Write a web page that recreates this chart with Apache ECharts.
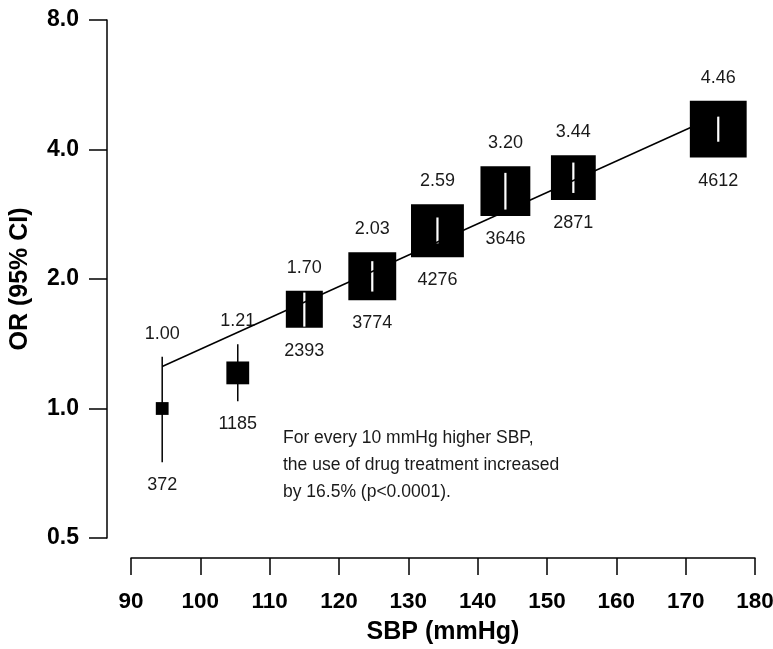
<!DOCTYPE html>
<html>
<head>
<meta charset="utf-8">
<script src="https://cdn.jsdelivr.net/npm/echarts@6/dist/echarts.min.js"></script>
<style>
html,body{margin:0;padding:0;background:#fff;}
#chart{width:773px;height:649px;}
</style>
</head>
<body>
<div id="chart"></div>
<script>
// ---- data ----
var sbpMean   = [94.5, 105.4, 115.0, 124.8, 134.2, 144.0, 153.8, 174.7];
var oddsRatio = [1.00, 1.21, 1.70, 2.03, 2.59, 3.20, 3.44, 4.46];
var ciLow     = [0.75, 1.04, 1.55, 1.87, 2.42, 2.90, 3.17, 4.17];
var ciHigh    = [1.32, 1.41, 1.86, 2.20, 2.78, 3.53, 3.73, 4.77];
var nPatients = [372, 1185, 2393, 3774, 4276, 3646, 2871, 4612];
var weightPct = [1.1, 3.5, 9.2, 15.4, 18.8, 16.7, 13.5, 21.7];
var trendX    = [94.5, 174.7];
var trendY    = [1.252, 4.81];
var xTicks    = [90, 180, 10];
var yTicks    = [0.5, 8.0];
var note = ['For every 10 mmHg higher SBP,', 'the use of drug treatment increased', 'by 16.5% (p<0.0001).'];

var FONT = "'Liberation Sans', Arial, Helvetica, sans-serif";

var pts = sbpMean.map(function (x, i) {
  return [x, oddsRatio[i], ciLow[i], ciHigh[i], nPatients[i], weightPct[i]];
});
var trend = trendX.map(function (x, i) { return [x, trendY[i]]; });

function renderBox(params, api) {
  var c = api.coord([api.value(0), api.value(1)]);
  var lo = api.coord([api.value(0), api.value(2)]);
  var hi = api.coord([api.value(0), api.value(3)]);
  var side = Math.sqrt(api.value(5)) * 12.2;
  var half = side / 2;
  var top = c[1] - half, bot = c[1] + half;
  var children = [];
  children.push({
    type: 'line',
    shape: { x1: c[0], y1: hi[1], x2: c[0], y2: lo[1] },
    style: { stroke: '#000', lineWidth: 1.5 }
  });
  children.push({
    type: 'rect',
    shape: { x: c[0] - half, y: top, width: side, height: side },
    style: { fill: '#000' }
  });
  if (side > 30) {
    children.push({
      type: 'line',
      shape: { x1: c[0], y1: Math.max(hi[1], top), x2: c[0], y2: Math.min(lo[1], bot) },
      style: { stroke: '#fff', lineWidth: 2.2 }
    });
  }
  var upper = Math.min(hi[1], top);
  var lower = Math.max(lo[1], bot);
  children.push({
    type: 'text',
    style: {
      text: api.value(1).toFixed(2), x: c[0], y: upper - 23,
      align: 'center', verticalAlign: 'middle',
      font: '18px ' + FONT, fill: '#1a1a1a'
    }
  });
  children.push({
    type: 'text',
    style: {
      text: String(api.value(4)), x: c[0], y: lower + 23,
      align: 'center', verticalAlign: 'middle',
      font: '18px ' + FONT, fill: '#1a1a1a'
    }
  });
  return { type: 'group', children: children };
}

var chart = echarts.init(document.getElementById('chart'), null, { renderer: 'canvas' });
chart.setOption({
  backgroundColor: '#fff',
  animation: false,
  grid: { left: 131, right: 18, top: 20, bottom: 111, containLabel: false, outerBoundsMode: 'none' },
  xAxis: {
    type: 'value', min: xTicks[0], max: xTicks[1], interval: xTicks[2],
    offset: 20,
    name: 'SBP (mmHg)', nameLocation: 'middle', nameGap: 62,
    nameTextStyle: { fontFamily: FONT, fontWeight: 'bold', fontSize: 25, color: '#000' },
    axisLine: { lineStyle: { color: '#000', width: 1.5 } },
    axisTick: { length: 17, lineStyle: { color: '#000', width: 1.5 } },
    axisLabel: { margin: 32, fontFamily: FONT, fontWeight: 'bold', fontSize: 22.5, color: '#000' },
    splitLine: { show: false }
  },
  yAxis: {
    type: 'log', logBase: 2, min: yTicks[0], max: yTicks[1], interval: 1,
    offset: 24,
    name: 'OR (95% CI)', nameLocation: 'middle', nameGap: 74,
    nameTextStyle: { fontFamily: FONT, fontWeight: 'bold', fontSize: 25, color: '#000' },
    axisLine: { lineStyle: { color: '#000', width: 1.5 } },
    axisTick: { length: 18, lineStyle: { color: '#000', width: 1.5 } },
    axisLabel: {
      margin: 28, fontFamily: FONT, fontWeight: 'bold', fontSize: 23, color: '#000',
      formatter: function (v) { return Number(v).toFixed(1); }
    },
    splitLine: { show: false }
  },
  series: [
    {
      type: 'custom', data: pts, renderItem: renderBox, z: 2, clip: false,
      encode: { x: 0, y: 1 }
    },
    {
      type: 'line', data: trend, showSymbol: false, symbol: 'none', z: 5,
      lineStyle: { color: '#000', width: 1.5 }
    }
  ],
  graphic: [{
    type: 'text', left: 283, top: 425, z: 10,
    style: {
      text: note.join('\n'), font: '17.5px ' + FONT, fill: '#1a1a1a', lineHeight: 27
    }
  }]
});
</script>
</body>
</html>
